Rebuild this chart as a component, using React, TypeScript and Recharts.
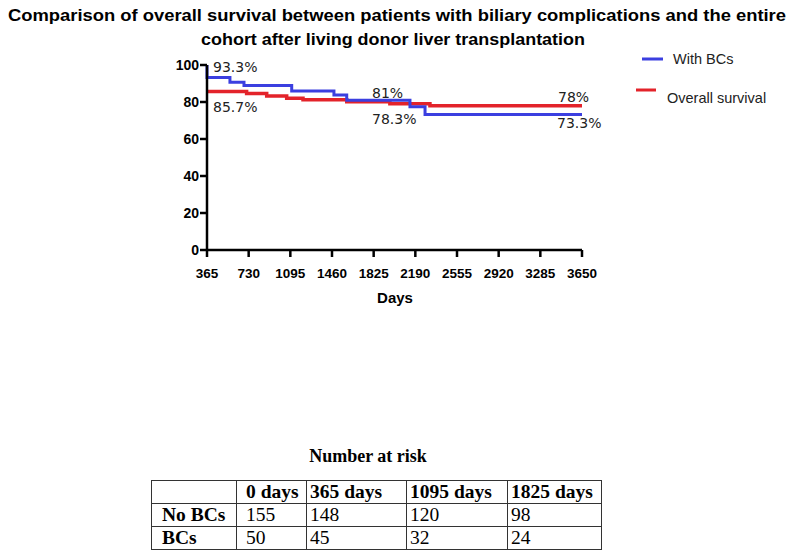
import React from "react";
import { LineChart, Line, XAxis, YAxis } from "recharts";

// Kaplan-Meier style curves (days, % survival)
const bcDays = [365, 365, 566, 689, 1107, 1477, 1589, 2143, 2275, 3650];
const bcSurvival = [100, 93.3, 90.7, 88.9, 86.0, 83.8, 81.0, 77.5, 73.3, 73.3];

const allDays = [365, 712, 888, 1063, 1206, 1589, 1967, 2318, 3650];
const allSurvival = [85.7, 84.6, 83.2, 82.0, 81.2, 80.2, 79.0, 78.0, 78.0];

const xTicks = [365, 730, 1095, 1460, 1825, 2190, 2555, 2920, 3285, 3650];
const yTicks = [0, 20, 40, 60, 80, 100];

const riskHeader = ["", "0 days", "365 days", "1095 days", "1825 days"];
const riskNoBCs = ["No BCs", "155", "148", "120", "98"];
const riskBCs = ["BCs", "50", "45", "32", "24"];

const bcData = bcDays.map((d, i) => ({ day: d, value: bcSurvival[i] }));
const allData = allDays.map((d, i) => ({ day: d, value: allSurvival[i] }));

const BLUE = "#3b3fe0";
const RED = "#e3232a";

const annot = { fontFamily: "DejaVu Sans", fontSize: 14, fill: "#222" };

export default function App() {
  const colW = [85, 70, 100, 101, 94];
  const padL = [10, 9, 3, 3, 3];
  return (
    <div style={{ position: "absolute", left: 0, top: 0, width: 794, height: 558, background: "#fff" }}>
      <LineChart
        width={794}
        height={558}
        margin={{ top: 65, right: 212, bottom: 258, left: 157 }}
      >
        <XAxis
          type="number"
          dataKey="day"
          domain={[365, 3650]}
          ticks={xTicks}
          allowDuplicatedCategory={false}
          height={50}
          stroke="#000"
          strokeWidth={2.5}
          tickSize={7}
          tickMargin={11}
          tick={{ fill: "#000", fontFamily: "Liberation Sans", fontWeight: 700, fontSize: 13.5 }}
        />
        <YAxis
          type="number"
          domain={[0, 100]}
          ticks={yTicks}
          width={50}
          stroke="#000"
          strokeWidth={2.5}
          tickSize={7}
          tickMargin={1}
          tick={{ fill: "#000", fontFamily: "Liberation Sans", fontWeight: 700, fontSize: 14 }}
        />
        <Line
          data={allData}
          dataKey="value"
          type="stepAfter"
          stroke={RED}
          strokeWidth={3.5}
          dot={false}
          isAnimationActive={false}
        />
        <Line
          data={bcData}
          dataKey="value"
          type="stepAfter"
          stroke={BLUE}
          strokeWidth={3}
          dot={false}
          isAnimationActive={false}
        />
      </LineChart>

      <svg
        width={794}
        height={558}
        style={{ position: "absolute", left: 0, top: 0, pointerEvents: "none" }}
      >
        <g fontFamily="Liberation Sans" fontWeight={700} fontSize={17} fill="#000">
          <text x={8} y={21} textLength={778} lengthAdjust="spacingAndGlyphs">
            Comparison of overall survival between patients with biliary complications and the entire
          </text>
          <text x={201} y={45} textLength={384} lengthAdjust="spacingAndGlyphs">
            cohort after living donor liver transplantation
          </text>
        </g>
        <text x={395} y={303} textAnchor="middle" fontFamily="Liberation Sans" fontWeight={700} fontSize={15}>
          Days
        </text>

        <text x={213} y={72} {...annot}>93.3%</text>
        <text x={213} y={112} {...annot}>85.7%</text>
        <text x={372} y={98} {...annot}>81%</text>
        <text x={372} y={124} {...annot}>78.3%</text>
        <text x={558} y={102} {...annot}>78%</text>
        <text x={557} y={128} {...annot}>73.3%</text>

        <line x1={642} x2={663} y1={59} y2={59} stroke={BLUE} strokeWidth={3} />
        <text x={673} y={64} fontFamily="Liberation Sans" fontSize={14.5} fill="#222">With BCs</text>
        <line x1={636} x2={656} y1={90} y2={90} stroke={RED} strokeWidth={3} />
        <text x={667} y={103} fontFamily="Liberation Sans" fontSize={14.5} fill="#222">Overall survival</text>
      </svg>

      <div
        style={{
          position: "absolute",
          left: 152,
          top: 446,
          width: 432,
          textAlign: "center",
          fontFamily: "Liberation Serif",
          fontWeight: 700,
          fontSize: 18,
        }}
      >
        Number at risk
      </div>
      <table
        style={{
          position: "absolute",
          left: 151,
          top: 480,
          borderCollapse: "collapse",
          fontFamily: "Liberation Serif",
          fontSize: 19.5,
          tableLayout: "fixed",
          width: 450,
        }}
      >
        <colgroup>
          {colW.map((w, i) => (
            <col key={i} style={{ width: w }} />
          ))}
        </colgroup>
        <tbody>
          {[riskHeader, riskNoBCs, riskBCs].map((row, r) => (
            <tr key={r} style={{ height: 23 }}>
              {row.map((c, i) => (
                <td
                  key={i}
                  style={{
                    border: "1.5px solid #333",
                    padding: `0 2px 0 ${padL[i]}px`,
                    lineHeight: "20px",
                    fontWeight: r === 0 || i === 0 ? 700 : 400,
                    whiteSpace: "nowrap",
                    overflow: "hidden",
                  }}
                >
                  {c}
                </td>
              ))}
            </tr>
          ))}
        </tbody>
      </table>
    </div>
  );
}
